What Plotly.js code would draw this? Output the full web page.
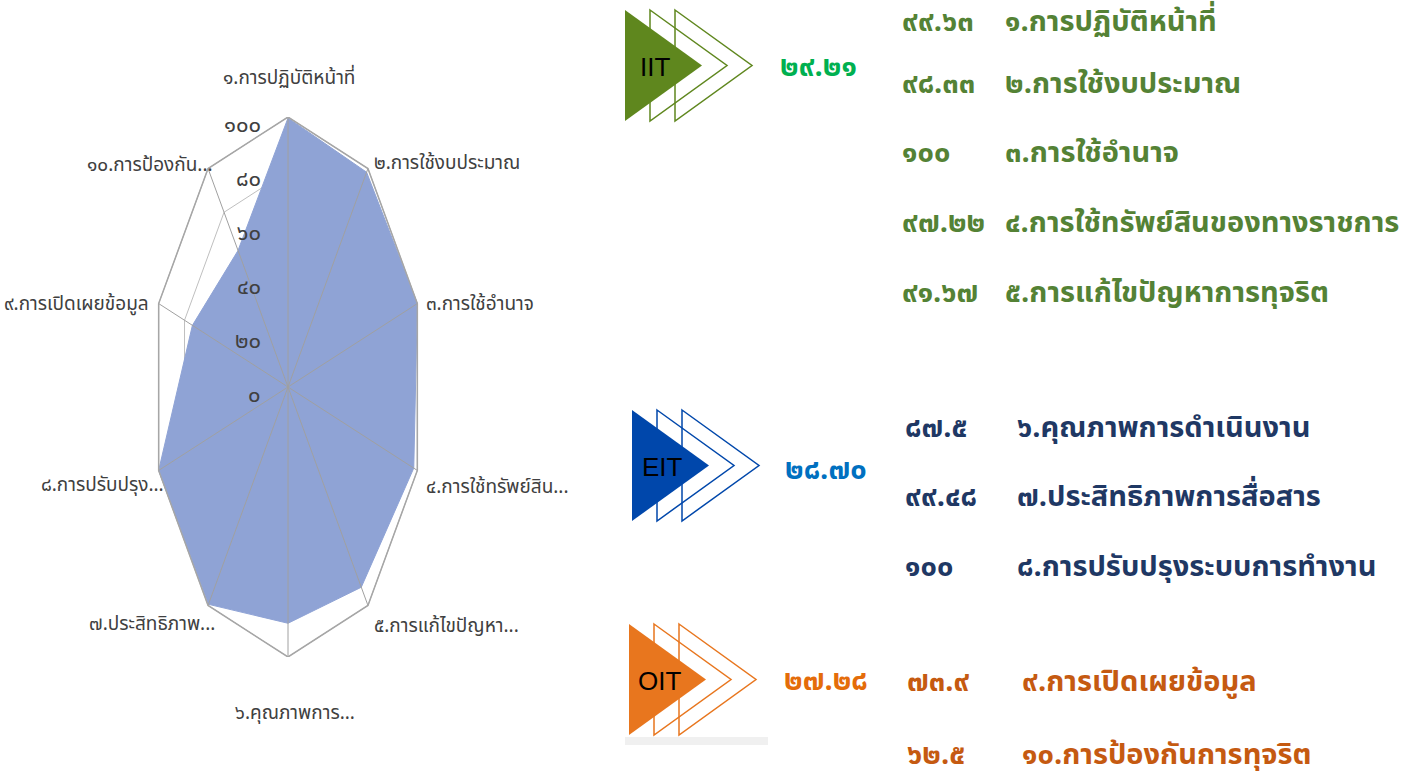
<!DOCTYPE html>
<html>
<head>
<meta charset="utf-8">
<script src="https://cdn.plot.ly/plotly-3.0.1.min.js"></script>
<style>
  html, body { margin: 0; padding: 0; background: #fff; }
  #chart { width: 1416px; height: 776px; }
</style>
</head>
<body>
<div id="chart"></div>
<script>
// ---- data ----
const radarLabels = ['1.การปฏิบัติหน้าที่', '2.การใช้งบประมาณ', '3.การใช้อำนาจ', '4.การใช้ทรัพย์สิน...',
  '5.การแก้ไขปัญหา...', '6.คุณภาพการ...', '7.ประสิทธิภาพ...', '8.การปรับปรุง...',
  '9.การเปิดเผยข้อมูล', '10.การป้องกัน...'];
const fullNames = ['1.การปฏิบัติหน้าที่', '2.การใช้งบประมาณ', '3.การใช้อำนาจ', '4.การใช้ทรัพย์สินของทางราชการ',
  '5.การแก้ไขปัญหาการทุจริต', '6.คุณภาพการดำเนินงาน', '7.ประสิทธิภาพการสื่อสาร',
  '8.การปรับปรุงระบบการทำงาน', '9.การเปิดเผยข้อมูล', '10.การป้องกันการทุจริต'];
const scores = [99.63, 98.33, 100, 97.22, 91.67, 87.5, 99.48, 100, 73.9, 62.5];
const radialTicks = [0, 20, 40, 60, 80, 100];
const groupNames = ['IIT', 'EIT', 'OIT'];
const groupScores = [29.21, 28.70, 27.28];
const groupSizes = [5, 3, 2];

// ---- helpers ----
const W = 1416, H = 776;
const thaiDigits = '๐๑๒๓๔๕๖๗๘๙';
function toThai(s) {
  return String(s).replace(/[0-9]/g, d => thaiDigits[+d]);
}
const px = x => x / W;
const py = y => 1 - y / H;

const n = scores.length;
const angle = i => i * 2 * Math.PI / n;
const polX = (r, i) => r / 100 * Math.sin(angle(i));
const polY = (r, i) => r / 100 * Math.cos(angle(i));

const thaiFont = 'Noto Sans Thai, Noto Sans, sans-serif';
const gray = '#404040';

// grid polygons (under the fill)
let gx = [], gy = [];
radialTicks.filter(t => t > 0).forEach(t => {
  for (let i = 0; i <= n; i++) { gx.push(polX(t, i % n)); gy.push(polY(t, i % n)); }
  gx.push(null); gy.push(null);
});
// spokes (over the fill)
let sx = [], sy = [];
for (let i = 0; i < n; i++) {
  sx.push(0, polX(100, i), null);
  sy.push(0, polY(100, i), null);
}
const ring = [...Array(n + 1).keys()].map(i => i % n);

const traces = [
  {
    x: gx, y: gy, mode: 'lines', cliponaxis: false,
    line: {color: '#BFBFBF', width: 1}, hoverinfo: 'skip'
  },
  {
    x: ring.map(i => polX(scores[i], i)),
    y: ring.map(i => polY(scores[i], i)),
    mode: 'lines', fill: 'toself', fillcolor: '#8FA3D5', cliponaxis: false,
    line: {color: '#8FA3D5', width: 1}, hoverinfo: 'skip'
  },
  {
    x: sx, y: sy, mode: 'lines', cliponaxis: false,
    line: {color: '#A0A0A0', width: 1}, hoverinfo: 'skip'
  },
  {
    x: ring.map(i => polX(100, i)),
    y: ring.map(i => polY(100, i)),
    mode: 'lines', cliponaxis: false,
    line: {color: '#A6A6A6', width: 1.5}, hoverinfo: 'skip'
  }
];

// label placement around the radar: [xanchor, xshift, yshift]
const labelPlace = [
  ['center', 1, 39], ['left', 4, 5], ['left', 7, -1], ['left', 7, -17], ['left', 4, -21],
  ['center', 7, -56], ['right', 9, -19], ['right', 7, -15], ['right', -8, -1], ['right', 7, 3]
];

const annotations = [];
radarLabels.forEach((lab, i) => {
  annotations.push({
    xref: 'x', yref: 'y', x: polX(100, i), y: polY(100, i),
    text: toThai(lab), showarrow: false,
    xanchor: labelPlace[i][0], yanchor: 'middle',
    xshift: labelPlace[i][1], yshift: labelPlace[i][2],
    font: {family: thaiFont, size: 19, color: gray}
  });
});
radialTicks.forEach(t => {
  annotations.push({
    xref: 'x', yref: 'y', x: 0, y: t / 100,
    text: toThai(t), showarrow: false, xanchor: 'right', yanchor: 'middle',
    xshift: -25, yshift: -8,
    font: {family: thaiFont, size: 22, color: gray}
  });
});

// right panel
const groupTop = [10, 410, 624];
const groupLeft = [625, 632, 629];
const triH = 111, triW = 77, step = 25;
const groupColor = ['#5F871E', '#0047AB', '#E8761E'];
const scoreColor = ['#00B050', '#0070C0', '#E46C0A'];
const textColor = ['#548235', '#1F3864', '#C55A11'];
const scoreY = [67, 470, 681];
const scoreX = [818, 826, 826];
const rowY = [22, 84, 153, 223, 293, 428, 497, 567, 682, 755];
const numX = [900, 903, 905];
const nameX = [1003, 1015, 1020];

const shapes = [];
function tri(x0, y0) {
  return 'M' + px(x0) + ',' + py(y0) +
    ' L' + px(x0 + triW) + ',' + py(y0 + triH / 2) +
    ' L' + px(x0) + ',' + py(y0 + triH) + ' Z';
}
groupNames.forEach((g, k) => {
  const x0 = groupLeft[k], y0 = groupTop[k];
  [2, 1].forEach(j => shapes.push({
    type: 'path', xref: 'paper', yref: 'paper', path: tri(x0 + j * step, y0),
    line: {color: groupColor[k], width: 1.5}, fillcolor: 'rgba(0,0,0,0)'
  }));
  shapes.push({
    type: 'path', xref: 'paper', yref: 'paper', path: tri(x0, y0),
    line: {width: 0}, fillcolor: groupColor[k]
  });
  annotations.push({
    xref: 'paper', yref: 'paper', x: px(x0 + 30), y: py(y0 + triH / 2 + 1),
    text: g, showarrow: false, xanchor: 'center', yanchor: 'middle',
    font: {family: 'Liberation Sans, Arial, sans-serif', size: 26, color: '#000'}
  });
  annotations.push({
    xref: 'paper', yref: 'paper', x: px(scoreX[k]), y: py(scoreY[k]),
    text: '<b>' + toThai(groupScores[k].toFixed(2)) + '</b>', showarrow: false,
    xanchor: 'center', yanchor: 'middle',
    font: {family: thaiFont, size: 29, color: scoreColor[k]}
  });
});
shapes.push({
  type: 'rect', xref: 'paper', yref: 'paper', x0: px(625), x1: px(768), y0: py(745), y1: py(737),
  line: {width: 0}, fillcolor: '#F0F0F0', layer: 'below'
});

let row = 0;
groupSizes.forEach((cnt, k) => {
  for (let j = 0; j < cnt; j++, row++) {
    annotations.push({
      xref: 'paper', yref: 'paper', x: px(numX[k]), y: py(rowY[row]),
      text: '<b>' + toThai(scores[row]) + '</b>', showarrow: false, xanchor: 'left', yanchor: 'middle',
      font: {family: thaiFont, size: 29, color: textColor[k]}
    });
    annotations.push({
      xref: 'paper', yref: 'paper', x: px(nameX[k]), y: py(rowY[row]),
      text: '<b>' + toThai(fullNames[row]) + '</b>', showarrow: false, xanchor: 'left', yanchor: 'middle',
      font: {family: thaiFont, size: 29, color: textColor[k]}
    });
  }
});

const layout = {
  width: W, height: H,
  margin: {l: 0, r: 0, t: 0, b: 0},
  paper_bgcolor: '#fff', plot_bgcolor: 'rgba(0,0,0,0)',
  showlegend: false, hovermode: false,
  xaxis: {visible: false, range: [-1, 1], domain: [px(152), px(424)], fixedrange: true},
  yaxis: {visible: false, range: [-1, 1], domain: [py(657), py(117)], fixedrange: true},
  shapes: shapes,
  annotations: annotations
};

Plotly.newPlot('chart', traces, layout, {staticPlot: true});
</script>
</body>
</html>
